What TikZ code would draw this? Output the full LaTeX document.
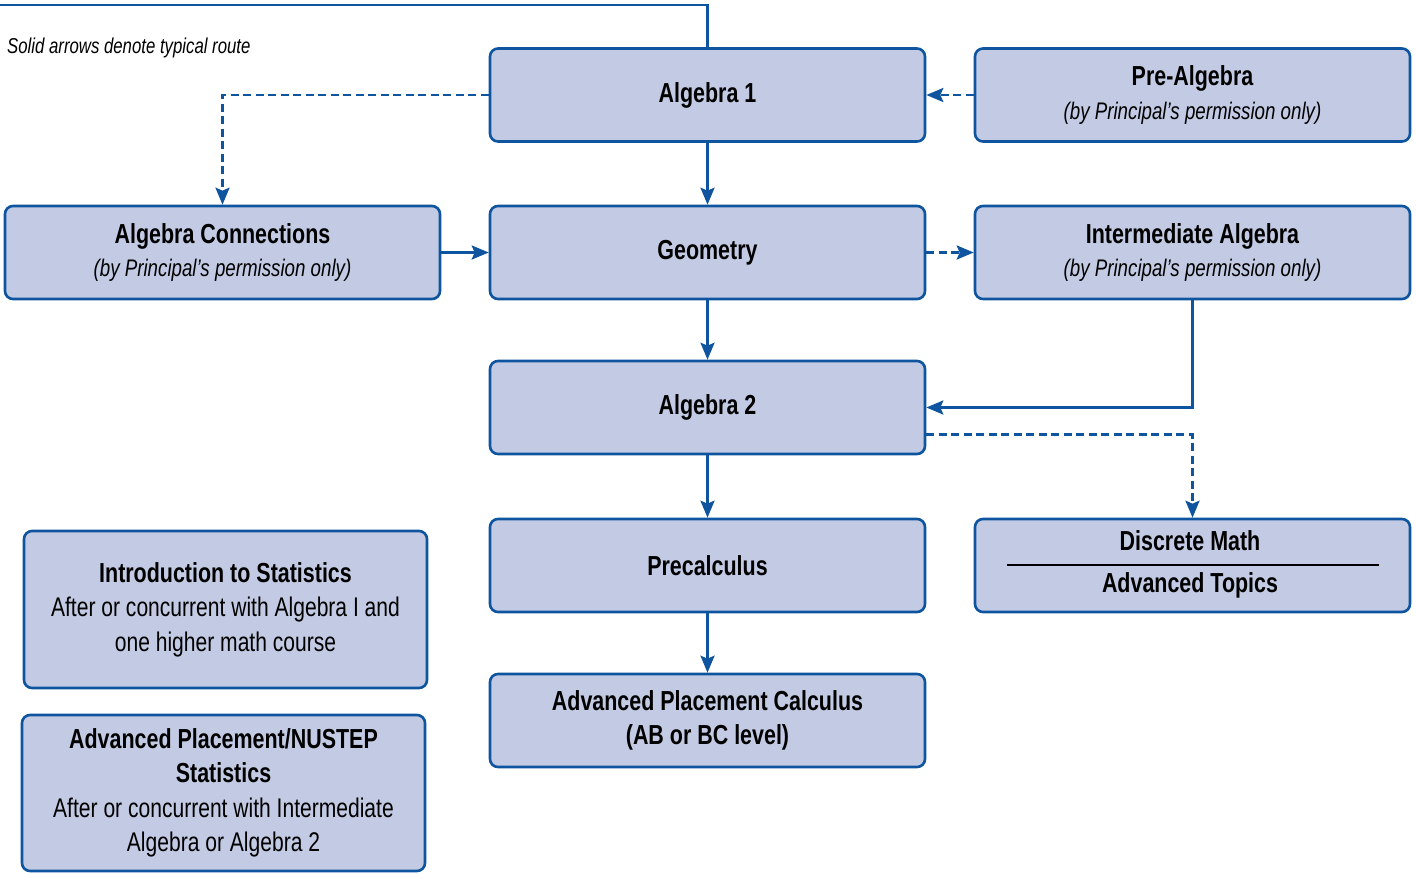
\documentclass[tikz,border=0pt]{standalone}
\usepackage{fontspec}
\setmainfont{Liberation Sans}[FakeStretch=0.78]
\usetikzlibrary{arrows.meta}
\definecolor{bord}{HTML}{0E549E}
\definecolor{boxfill}{HTML}{C3CBE4}
\newcommand{\ttlfont}{\bfseries\fontsize{27.5}{34.5}\selectfont}
\newcommand{\subfont}{\itshape\mdseries\fontsize{24}{34.5}\selectfont}
\newcommand{\bodyfont}{\mdseries\fontsize{27}{35}\selectfont}
\tikzset{
  course/.style={draw=bord, fill=boxfill, line width=2.6pt, rounded corners=8pt,
    minimum width=435pt, minimum height=93pt, align=center, text=black,
    inner sep=0pt, font=\fontsize{24}{34.5}\selectfont},
  conn/.style={draw=bord, line width=2.6pt, -{Stealth[length=17pt,width=14pt,inset=3pt]}},
  dconn/.style={conn, dash pattern=on 8pt off 4.5pt}
}
\begin{document}
\begin{tikzpicture}[x=1pt,y=-1pt]
\useasboundingbox (0,0) rectangle (1416,873);
% nodes
\node[course] (a1) at (707.5,95) {\ttlfont Algebra 1};
\node[course] (pa) at (1192.5,95) {\ttlfont Pre-Algebra\\[-1pt] \subfont (by Principal's permission only)};
\node[course] (ac) at (222.5,252.5) {\ttlfont Algebra Connections\\[-1pt] \subfont (by Principal's permission only)};
\node[course] (ge) at (707.5,252.5) {\ttlfont Geometry};
\node[course] (ia) at (1192.5,252.5) {\ttlfont Intermediate Algebra\\[-1pt] \subfont (by Principal's permission only)};
\node[course] (a2) at (707.5,407.5) {\ttlfont Algebra 2};
\node[course] (pc) at (707.5,565.5) {\ttlfont Precalculus};
\node[course] (dm) at (1192.5,565.5) {};
\node[font=\ttlfont, inner sep=0pt] (dmt) at (1190,541) {Discrete Math};
\node[font=\ttlfont, inner sep=0pt] (dmb) at (1190,585) {Advanced Topics};
\coordinate (dml) at (1007,565);
\coordinate (dmr) at (1379,565);
\draw[line width=1.8pt, black] (dml) -- (dmr);
\node[course] (ap) at (707.5,720.5) {\ttlfont Advanced Placement Calculus\\ \ttlfont (AB or BC level)};
\node[course, minimum width=403pt, minimum height=157pt] (is) at (225.5,609.5) {\ttlfont Introduction to Statistics\\ \bodyfont After or concurrent with Algebra I and\\ \bodyfont one higher math course};
\node[course, minimum width=403pt, minimum height=156pt] (as) at (223.5,793) {\ttlfont Advanced Placement/NUSTEP\\ \ttlfont Statistics\\ \bodyfont After or concurrent with Intermediate\\ \bodyfont Algebra or Algebra 2};
\node[anchor=west, inner sep=0pt, font=\itshape\fontsize{21.5}{26}\selectfont] (note) at (7,48) {Solid arrows denote typical route};
% connectors
\coordinate (tl) at (0,5);
\draw[draw=bord, line width=2.6pt] (tl) -| (a1.north);
\draw[conn] (a1) -- (ge);
\draw[dconn] (a1.west) -| (ac.north);
\draw[dconn] (pa.west) -- (a1.east);
\draw[conn] (ac) -- (ge);
\draw[dconn] (ge) -- (ia);
\draw[conn] (ge) -- (a2);
\draw[conn] (ia.south) |- (a2.east);
\draw[dconn] ([yshift=-27pt]a2.east) -| (dm.north);
\draw[conn] (a2) -- (pc);
\draw[conn] (pc) -- (ap);
\end{tikzpicture}
\end{document}
